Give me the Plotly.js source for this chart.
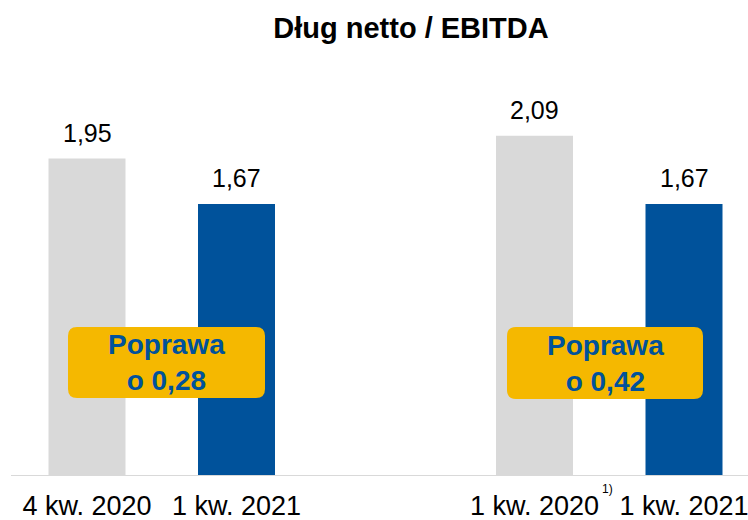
<!DOCTYPE html>
<html><head><meta charset="utf-8">
<script src="https://cdn.plot.ly/plotly-3.0.1.min.js"></script>
<style>html,body{margin:0;padding:0;background:#fff}</style>
</head><body><div id="chart" style="width:748px;height:520px"></div>
<script>
// ---- data ----
const chartTitle = "Dług netto / EBITDA";
const leftCategories = ["4 kw. 2020", "1 kw. 2021"];
const leftValues = [1.95, 1.67];
const rightCategories = ["1 kw. 2020", "1 kw. 2021"];
const rightValues = [2.09, 1.67];
const footnoteText = "1)";
const improvementWord = "Poprawa";

// ---- style ----
const W = 748, H = 520, MB = 44;
const PH = H - MB;
const FONT = "Liberation Sans, Arial, sans-serif";
const GRAY = "#D9D9D9", BLUE = "#00529B", YELLOW = "#F5B800";
const barColors = [GRAY, BLUE];

const fmt = v => v.toFixed(2).replace('.', ',');

const traces = [
  {type: 'bar', x: leftCategories, y: leftValues, xaxis: 'x', yaxis: 'y',
   marker: {color: barColors, line: {width: 0}}, width: 0.515, hoverinfo: 'skip'},
  {type: 'bar', x: rightCategories, y: rightValues, xaxis: 'x2', yaxis: 'y',
   marker: {color: barColors, line: {width: 0}}, width: 0.515, hoverinfo: 'skip'}
];

const annotations = [];
function valueLabels(cats, vals, xref) {
  cats.forEach((c, i) => annotations.push({
    xref: xref, yref: 'y', x: c, y: vals[i], text: fmt(vals[i]),
    showarrow: false, yanchor: 'bottom', yshift: 10,
    font: {family: FONT, size: 25, color: '#000'}
  }));
}
valueLabels(leftCategories, leftValues, 'x');
valueLabels(rightCategories, rightValues, 'x2');

// rounded yellow boxes (pixel geometry -> paper coords)
const px = x => x / W, py = y => (PH - y) / PH;
function roundRect(x0, y0, x1, y1, r) {
  const P = (x, y) => px(x) + ',' + py(y);
  return 'M' + P(x0 + r, y0) + ' L' + P(x1 - r, y0) + ' Q' + P(x1, y0) + ' ' + P(x1, y0 + r) +
         ' L' + P(x1, y1 - r) + ' Q' + P(x1, y1) + ' ' + P(x1 - r, y1) +
         ' L' + P(x0 + r, y1) + ' Q' + P(x0, y1) + ' ' + P(x0, y1 - r) +
         ' L' + P(x0, y0 + r) + ' Q' + P(x0, y0) + ' ' + P(x0 + r, y0) + ' Z';
}
const boxes = [
  {x0: 68, x1: 265, y0: 327, y1: 398, diff: leftValues[0] - leftValues[1]},
  {x0: 507, x1: 703, y0: 327, y1: 399, diff: rightValues[0] - rightValues[1]}
];
const shapes = [
  {type: 'line', xref: 'paper', yref: 'y', x0: px(11), x1: 1, y0: 0, y1: 0,
   line: {color: GRAY, width: 2}, layer: 'above'}
];
boxes.forEach(b => {
  shapes.push({type: 'path', xref: 'paper', yref: 'paper', path: roundRect(b.x0, b.y0, b.x1, b.y1, 9),
    fillcolor: YELLOW, line: {width: 0}, layer: 'above'});
  annotations.push({xref: 'paper', yref: 'paper', x: px((b.x0 + b.x1) / 2), y: py((b.y0 + b.y1) / 2),
    text: '<b>' + improvementWord + '</b><br><b>o ' + fmt(b.diff) + '</b>',
    showarrow: false, xanchor: 'center', yanchor: 'middle',
    font: {family: FONT, size: 28, color: BLUE}});
});
annotations.push({xref: 'paper', yref: 'paper', x: px(607), y: py(489), text: footnoteText,
  showarrow: false, xanchor: 'center', yanchor: 'middle', font: {family: FONT, size: 12, color: '#000'}});

const axisCommon = {type: 'category', showgrid: false, zeroline: false, showline: false, ticks: '',
  tickfont: {family: FONT, size: 27, color: '#000'}, ticklabelstandoff: 11, fixedrange: true};
const unit = 149.5;
const layout = {
  width: W, height: H, margin: {l: 0, r: 0, t: 0, b: MB},
  paper_bgcolor: '#fff', plot_bgcolor: '#fff', showlegend: false,
  title: {text: '<b>' + chartTitle + '</b>', font: {family: FONT, size: 29, color: '#000'},
    xref: 'paper', x: 411 / W, xanchor: 'center', yref: 'container', y: 1 - 28 / H, yanchor: 'middle'},
  xaxis: Object.assign({}, axisCommon, {domain: [0, 0.5], range: [-87 / unit, (374 - 87) / unit]}),
  xaxis2: Object.assign({}, axisCommon, {domain: [0.5, 1], anchor: 'y', range: [-(534.5 - 374) / unit, (748 - 534.5) / unit]}),
  yaxis: {range: [0, PH / 162.8], visible: false, fixedrange: true},
  shapes: shapes, annotations: annotations
};
Plotly.newPlot('chart', traces, layout, {displayModeBar: false, staticPlot: true});
</script></body></html>
